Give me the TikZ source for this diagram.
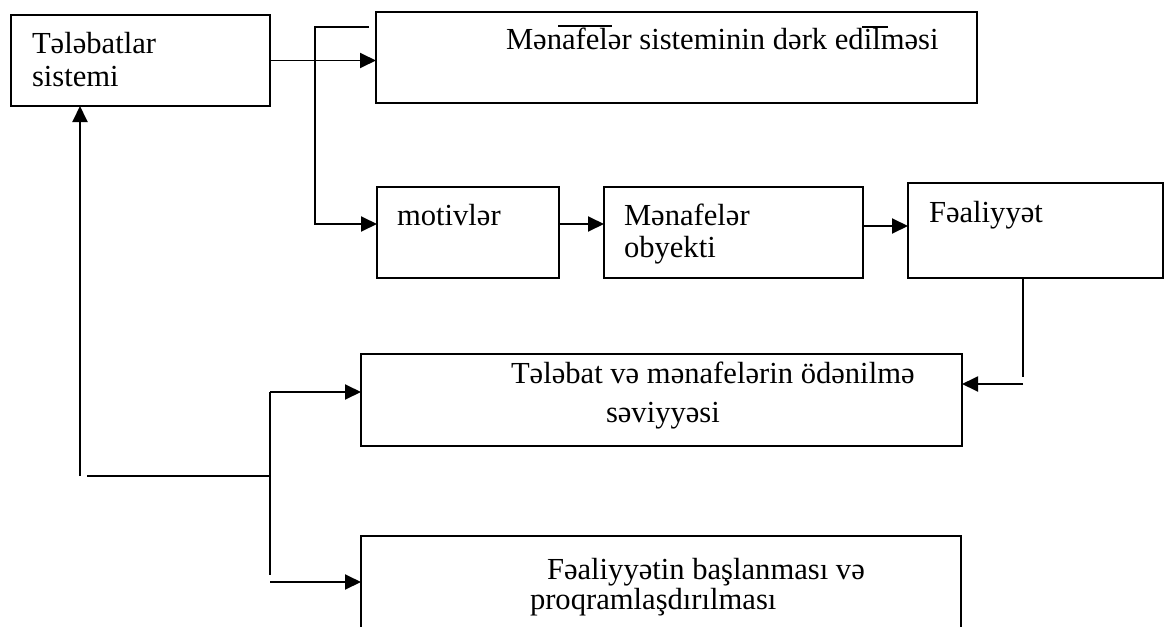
\documentclass[tikz,border=0pt]{standalone}
\usepackage{fontspec}
\setmainfont{Liberation Serif}
\usetikzlibrary{arrows.meta}
\begin{document}
\begin{tikzpicture}[x=1pt,y=-1pt,
  box/.style={draw, line width=1.9pt, rectangle, inner sep=0pt, outer sep=0pt},
  txt/.style={anchor=base west, inner sep=0pt, outer sep=0pt, font=\fontsize{30.6}{34}\selectfont},
  link/.style={line width=1.9pt},
  arr/.style={link, -{Triangle[length=16pt,width=15pt]}}]
\useasboundingbox (0,0) rectangle (1169,626);
\clip (0,0) rectangle (1169,626);

% boxes
\node[box, minimum width=259pt, minimum height=91pt] (need) at (140.5,60.5) {};
\node[box, minimum width=601pt, minimum height=91pt] (aware) at (676.5,57.5) {};
\node[box, minimum width=182pt, minimum height=91pt] (motiv) at (468,232.5) {};
\node[box, minimum width=259pt, minimum height=91pt] (object) at (733.5,232.5) {};
\node[box, minimum width=255pt, minimum height=95pt] (activity) at (1035.5,230.5) {};
\node[box, minimum width=601pt, minimum height=92pt] (level) at (661.5,400) {};
\node[box, minimum width=600pt, minimum height=144pt] (start) at (661,608) {};

% texts
\node[txt] (t1a) at (32,53) {Tələbatlar};
\node[txt] (t1b) at (32,86) {sistemi};
\node[txt] (t2) at (506,50) {Mənafelər sisteminin dərk edilməsi};
\node[txt] (t3) at (397,225) {motivlər};
\node[txt] (t4a) at (624,225) {Mənafelər};
\node[txt] (t4b) at (624,257) {obyekti};
\node[txt] (t5) at (929,222) {Fəaliyyət};
\node[txt] (t6a) at (511,383) {Tələbat və mənafelərin ödənilmə};
\node[txt] (t6b) at (606,422) {səviyyəsi};
\node[txt] (t7a) at (547,579) {Fəaliyyətin başlanması və};
\node[txt] (t7b) at (530,609) {proqramlaşdırılması};

% stray overbars above the heading
\draw[line width=1.3pt] (558,26) -- (612,26);
\draw[line width=1.3pt] (862,27) -- (888,27);

% connector helpers
\coordinate (tstart) at (369,27);
\coordinate (tcorner) at (315,27);
\coordinate (tlow) at (315,224);
\coordinate (fcorner) at (1023,377);
\coordinate (fstart) at (1023,384);
\coordinate (lcorner) at (80,476);
\coordinate (hstart) at (87,476);
\coordinate (hjoin) at (270,476);
\coordinate (btop) at (270,392);
\coordinate (bbot) at (270,575);
\coordinate (blow) at (270,582);

% connectors
\draw[arr] (need.east) -- (aware.west |- need.east);
\draw[arr] (tstart) -- (tcorner) -- (tlow) -- (motiv.west |- tlow);
\draw[arr] (motiv.east |- tlow) -- (object.west |- tlow);
\draw[arr] (object.east |- 0,226) -- (activity.west |- 0,226);
\draw[link] (activity.south -| fcorner) -- (fcorner);
\draw[arr] (fstart) -- (level.east |- fstart);
\draw[arr] (lcorner) -- (lcorner |- need.south);
\draw[link] (hstart) -- (hjoin);
\draw[link] (btop) -- (bbot);
\draw[arr] (btop) -- (level.west |- btop);
\draw[arr] (blow) -- (start.west |- blow);
\end{tikzpicture}
\end{document}
